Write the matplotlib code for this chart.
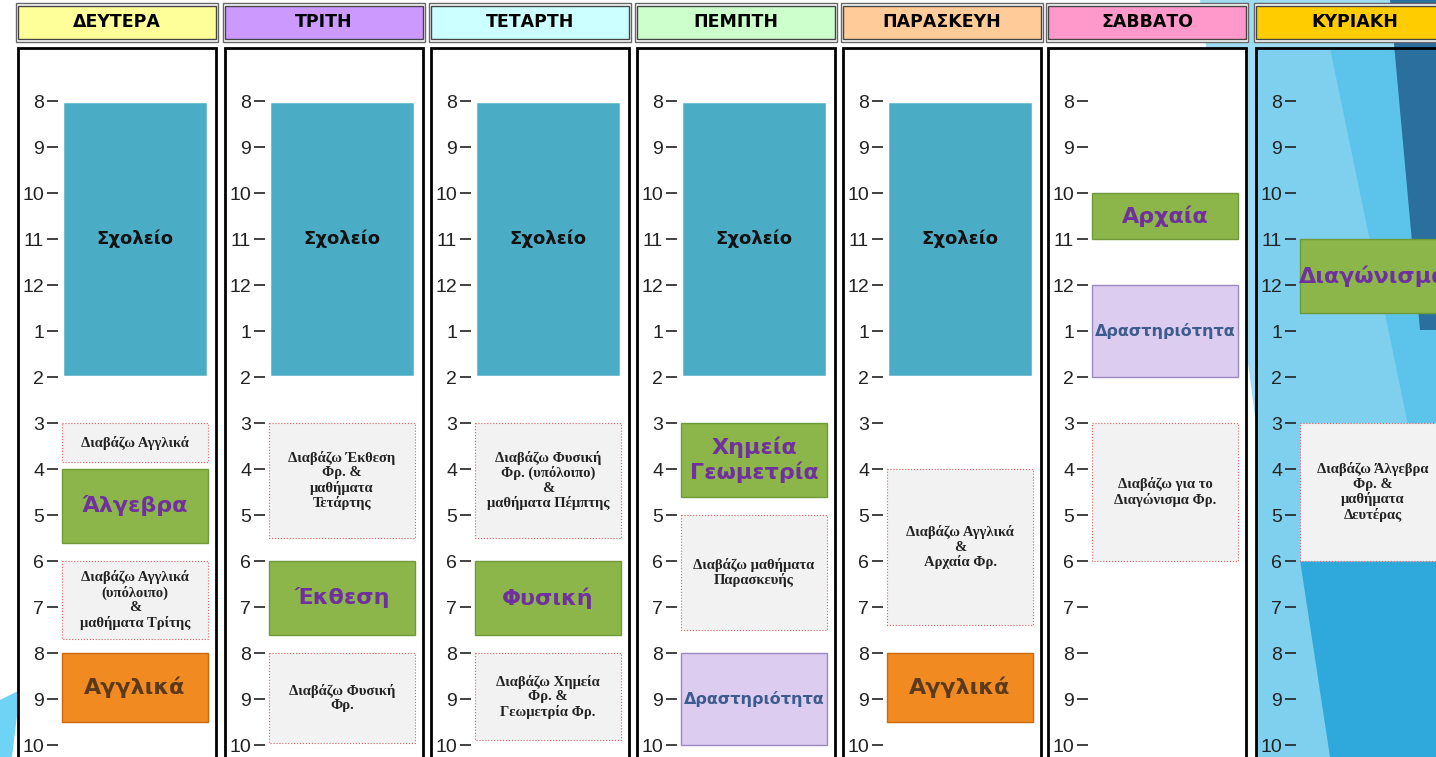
import matplotlib
matplotlib.use("Agg")
import matplotlib.pyplot as plt
from matplotlib.patches import Rectangle, Polygon

W, H = 1436, 757
days = ["ΔΕΥΤΕΡΑ", "ΤΡΙΤΗ", "ΤΕΤΑΡΤΗ", "ΠΕΜΠΤΗ", "ΠΑΡΑΣΚΕΥΗ", "ΣΑΒΒΑΤΟ", "ΚΥΡΙΑΚΗ"]
header_colors = ["#ffff99", "#cc99ff", "#ccffff", "#ccffcc", "#ffcc99", "#ff99cc", "#ffcc00"]
hour_ticks = list(range(8, 23))
hour_labels = ["8", "9", "10", "11", "12", "1", "2", "3", "4", "5", "6", "7", "8", "9", "10"]

# (start hour, end hour, label, kind)
schedule = [
    [(8, 14, "Σχολείο", "school"), (15, 15.85, "Διαβάζω Αγγλικά", "study"),
     (16, 17.6, "Άλγεβρα", "green"), (18, 19.7, "Διαβάζω Αγγλικά\n(υπόλοιπο)\n&\nμαθήματα Τρίτης", "study"),
     (20, 21.5, "Αγγλικά", "orange")],
    [(8, 14, "Σχολείο", "school"), (15, 17.5, "Διαβάζω Έκθεση\nΦρ. &\nμαθήματα\nΤετάρτης", "study"),
     (18, 19.6, "Έκθεση", "green"), (20, 21.95, "Διαβάζω Φυσική\nΦρ.", "study")],
    [(8, 14, "Σχολείο", "school"), (15, 17.5, "Διαβάζω Φυσική\nΦρ. (υπόλοιπο)\n&\nμαθήματα Πέμπτης", "study"),
     (18, 19.6, "Φυσική", "green"), (20, 21.9, "Διαβάζω Χημεία\nΦρ. &\nΓεωμετρία Φρ.", "study")],
    [(8, 14, "Σχολείο", "school"), (15, 16.6, "Χημεία\nΓεωμετρία", "green"),
     (17, 19.5, "Διαβάζω μαθήματα\nΠαρασκευής", "study"), (20, 22.0, "Δραστηριότητα", "lav")],
    [(8, 14, "Σχολείο", "school"), (16, 19.4, "Διαβάζω Αγγλικά\n&\nΑρχαία Φρ.", "study"),
     (20, 21.5, "Αγγλικά", "orange")],
    [(10, 11, "Αρχαία", "green"), (12, 14, "Δραστηριότητα", "lav"),
     (15, 18, "Διαβάζω για το\nΔιαγώνισμα Φρ.", "study")],
    [(11, 12.6, "Διαγώνισμα", "green"), (15, 18, "Διαβάζω Άλγεβρα\nΦρ. &\nμαθήματα\nΔευτέρας", "study")],
]

box_left = [18, 225, 431, 637, 843, 1048, 1256]
box_w = 198

fig = plt.figure(figsize=(W / 100, H / 100), dpi=100)
fig.patch.set_facecolor("white")

def fx(x): return x / W
def fy(y): return 1 - y / H

deco = [
    ([(1200, 0), (1436, 0), (1436, 757), (1300, 757)], "#9fdcf2"),
    ([(1256, 48), (1436, 48), (1436, 757), (1256, 757)], "#5cc3ea"),
    ([(1256, 48), (1330, 48), (1436, 560), (1436, 757), (1256, 757)], "#7fd0ee"),
    ([(1390, 0), (1436, 0), (1436, 330), (1420, 330)], "#2a6f9e"),
    ([(1300, 560), (1436, 470), (1436, 757), (1330, 757)], "#2fa9dc"),
    ([(0, 700), (20, 690), (12, 757), (0, 757)], "#6fd3f5"),
]
for pts, c in deco:
    fig.patches.append(Polygon([(fx(x), fy(y)) for x, y in pts], closed=True,
                               transform=fig.transFigure, facecolor=c, edgecolor="none", zorder=0))

styles = {
    "school": dict(fc="#4bacc6", ec="white", lw=2.5, ls="-", color="#111111", size=13, fam="DejaVu Sans", weight="bold"),
    "study": dict(fc="#f2f2f2", ec="#e06060", lw=0.8, ls=":", color="#222222", size=10.5, fam="Liberation Serif", weight="bold"),
    "green": dict(fc="#8cb64a", ec="#6e9a3a", lw=1, ls="-", color="#7030a0", size=16, fam="DejaVu Sans", weight="bold"),
    "orange": dict(fc="#f28a22", ec="#c86a10", lw=1, ls="-", color="#5a3a1a", size=16, fam="DejaVu Sans", weight="bold"),
    "lav": dict(fc="#dcccf0", ec="#9c88c0", lw=1, ls="-", color="#3d5b8c", size=11.5, fam="DejaVu Sans", weight="bold"),
}

top_px, bot_px = 48, 775
ytop = 8 - (101 - top_px) / 46
ybot = 22 + (bot_px - 745) / 46

for i, day in enumerate(days):
    L = box_left[i]
    fig.patches.append(Rectangle((fx(L - 2), fy(42)), (box_w + 4) / W, 39 / H, transform=fig.transFigure,
                                 fc="white", ec="#666666", lw=1, zorder=1))
    fig.patches.append(Rectangle((fx(L), fy(39)), box_w / W, 33 / H, transform=fig.transFigure,
                                 fc=header_colors[i], ec="#444444", lw=1, zorder=2))
    fig.text(fx(L + box_w / 2), fy(22), day, ha="center", va="center", fontsize=12.5,
             fontweight="heavy", color="black", zorder=3)
    fig.patches.append(Rectangle((fx(L), fy(bot_px)), box_w / W, (bot_px - top_px) / H, transform=fig.transFigure,
                                 fc="white" if i < 6 else "none", ec="black", lw=2, zorder=1))
    ax = fig.add_axes([fx(L + 40), fy(bot_px), 154 / W, (bot_px - top_px) / H])
    ax.set_zorder(3)
    ax.patch.set_alpha(0)
    for s in ax.spines.values():
        s.set_visible(False)
    ax.set_xlim(0, 1)
    ax.set_ylim(ybot, ytop)
    ax.set_xticks([])
    ax.set_yticks(hour_ticks)
    ax.set_yticklabels(hour_labels, family="Liberation Sans")
    ax.tick_params(axis="y", length=8, width=1.2, color="#222222", labelsize=14, labelcolor="#222222", pad=2)
    for (s, e, lab, kind) in schedule[i]:
        st = styles[kind]
        ax.bar(0.5, e - s, bottom=s, width=0.95, color=st["fc"], edgecolor=st["ec"],
               linewidth=st["lw"], linestyle=st["ls"], zorder=2)
        ax.text(0.5, (s + e) / 2, lab, ha="center", va="center", fontsize=st["size"],
                family=st["fam"], fontweight=st["weight"], color=st["color"], zorder=3,
                linespacing=1.15, clip_on=False)

fig.savefig("out.png", dpi=100)
